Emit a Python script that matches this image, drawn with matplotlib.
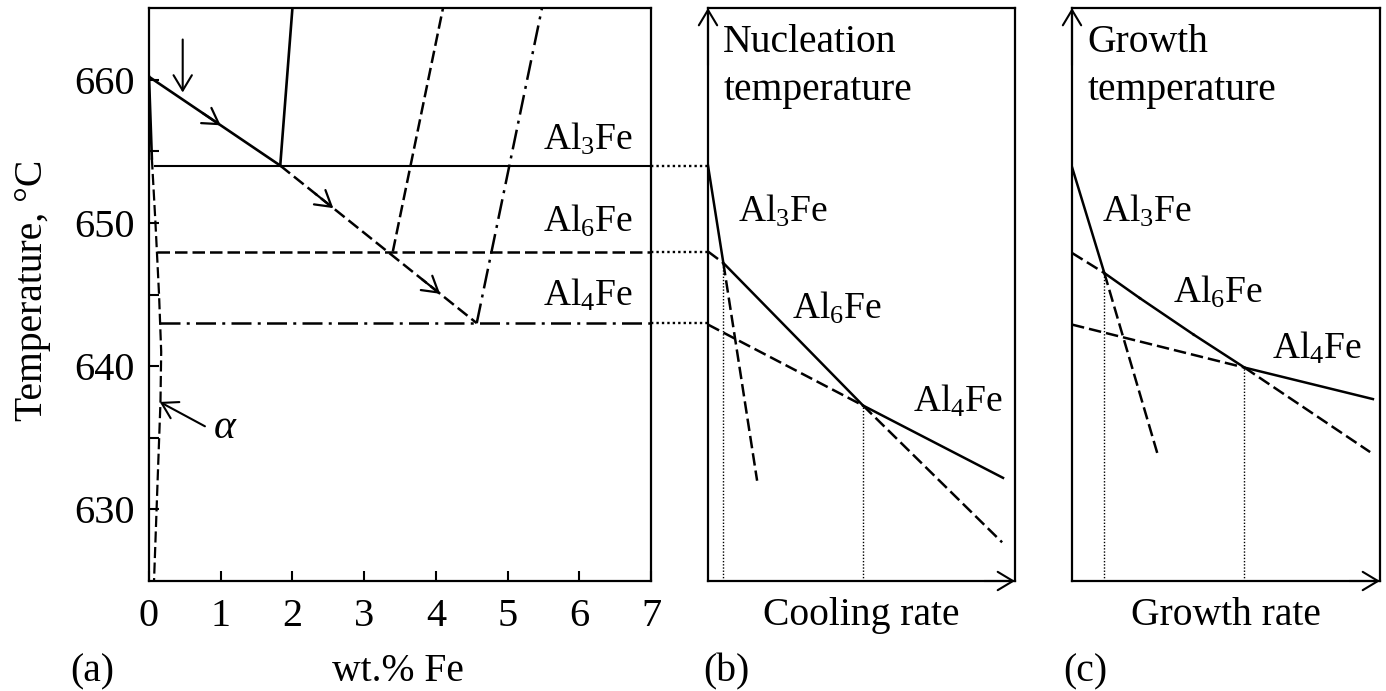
import matplotlib
matplotlib.use('Agg')
import matplotlib.pyplot as plt

plt.rcParams['font.family'] = ['Liberation Serif', 'DejaVu Serif']
plt.rcParams['mathtext.fontset'] = 'custom'
plt.rcParams['mathtext.rm'] = 'Liberation Serif'
plt.rcParams['mathtext.it'] = 'Liberation Serif:italic'

# (a) Al-Fe phase diagram, Al-rich corner
liq_x = [0.0, 1.83]
liq_t = [660.2, 654.0]
liq_ext_x = [1.83, 4.57]          # metastable extension of the liquidus
liq_ext_t = [654.0, 643.0]
al3fe_x = [1.83, 2.0]
al3fe_t = [654.0, 665.0]
al6fe_x = [3.40, 4.10]
al6fe_t = [648.0, 665.0]
al4fe_x = [4.57, 5.48]
al4fe_t = [643.0, 665.0]
eut_t = [654.0, 648.0, 643.0]     # eutectic temperatures Al3Fe, Al6Fe, Al4Fe
eut_x0 = [0.08, 0.11, 0.15]
solidus_x = [0.0, 0.04]
solidus_t = [660.2, 654.5]
solvus_x = [0.04, 0.09, 0.14, 0.17, 0.16, 0.12, 0.07]
solvus_t = [654.5, 650.0, 645.0, 641.0, 637.5, 632.0, 625.0]
phases = ['Al$_3$Fe', 'Al$_6$Fe', 'Al$_4$Fe']
wt_ticks = [0, 1, 2, 3, 4, 5, 6, 7]
t_ticks = [630, 640, 650, 660]
t_minor = [635, 645, 655]

# (b) nucleation temperature vs cooling rate
nuc_al3_x = [0.0, 0.5, 1.6]
nuc_al3_t = [654.0, 647.2, 632.0]
nuc_al6_x = [0.0, 0.5, 5.05, 9.58]
nuc_al6_t = [648.0, 647.2, 637.25, 627.7]
nuc_al4_x = [0.0, 5.05, 9.61]
nuc_al4_t = [642.9, 637.25, 632.2]
nuc_cross_x = [0.5, 5.05]
nuc_cross_t = [647.2, 637.25]

# (c) growth temperature vs growth rate
gro_al3_x = [0.0, 1.05, 2.8]
gro_al3_t = [653.9, 646.5, 633.7]
gro_al6_x = [0.0, 1.05, 2.2, 3.95, 5.6, 9.68]
gro_al6_t = [647.9, 646.5, 644.75, 642.2, 639.9, 634.0]
gro_al4_x = [0.0, 5.6, 9.77]
gro_al4_t = [642.9, 639.9, 637.7]
gro_cross_x = [1.05, 5.6]
gro_cross_t = [646.5, 639.9]

W, H = 1386, 691
def box(l, t, r, b):
    return [l / W, 1 - b / H, (r - l) / W, (b - t) / H]

DASH = (0, (5, 2))
DASHDOT = (0, (8, 2.5, 1.2, 2.5))
DOT = (0, (1, 1.3))
ARROW = '->,head_length=0.5,head_width=0.3'

fig = plt.figure(figsize=(13.86, 6.91), dpi=100)
ax_a = fig.add_axes(box(149, 8, 651, 581))
ax_b = fig.add_axes(box(708, 8, 1015, 581))
ax_c = fig.add_axes(box(1072, 8, 1380, 581))

for ax in (ax_a, ax_b, ax_c):
    ax.set_ylim(625, 665)
    for s in ax.spines.values():
        s.set_linewidth(1.6)

# ---- panel (a)
ax_a.set_xlim(0, 7)
ax_a.set_xticks(wt_ticks)
ax_a.set_yticks(t_ticks)
ax_a.set_yticks(t_minor, minor=True)
ax_a.tick_params(which='both', direction='in', length=7, width=1.5, labelsize=29, pad=10)
ax_a.tick_params(axis='x', pad=12)

ax_a.plot(liq_x, liq_t, 'k-', lw=1.9)
ax_a.plot(liq_ext_x, liq_ext_t, 'k', ls=DASH, lw=1.8)
ax_a.plot(al3fe_x, al3fe_t, 'k-', lw=1.9)
ax_a.plot(al6fe_x, al6fe_t, 'k', ls=DASH, lw=1.8)
ax_a.plot(al4fe_x, al4fe_t, 'k', ls=DASHDOT, lw=1.8)
ax_a.plot(solidus_x, solidus_t, 'k-', lw=1.9)
ax_a.plot(solvus_x, solvus_t, 'k', ls=DASH, lw=1.6)
styles = ['-', DASH, DASHDOT]
for x0, t, st in zip(eut_x0, eut_t, styles):
    ax_a.plot([x0, 7], [t, t], 'k', ls=st, lw=1.5 if st == '-' else 1.8)

# dotted connectors from (a) to (b)
bx = ax_a.transData.inverted().transform(ax_b.transAxes.transform((0, 0)))[0]
for t in eut_t:
    ax_a.plot([7, bx], [t, t], 'k', ls=DOT, lw=1.7, clip_on=False)

# arrows along the cooling path
def along(ax, x, xs, ts):
    slope = (ts[1] - ts[0]) / (xs[1] - xs[0])
    t = ts[0] + slope * (x - xs[0])
    ax.annotate('', xy=(x, t), xytext=(x - 0.25, t - 0.25 * slope),
                arrowprops=dict(arrowstyle=ARROW, lw=1.6, mutation_scale=22,
                                shrinkA=0, shrinkB=0))

along(ax_a, 1.0, liq_x, liq_t)
along(ax_a, 2.57, liq_ext_x, liq_ext_t)
along(ax_a, 4.06, liq_ext_x, liq_ext_t)
ax_a.annotate('', xy=(0.47, 659.1), xytext=(0.47, 662.8),
              arrowprops=dict(arrowstyle=ARROW, lw=1.5, mutation_scale=22, shrinkA=0, shrinkB=0))
ax_a.annotate('', xy=(0.15, 637.5), xytext=(0.78, 635.8),
              arrowprops=dict(arrowstyle=ARROW, lw=1.5, mutation_scale=22, shrinkA=0, shrinkB=0))
ax_a.text(1.06, 635.7, 'α', style='italic', ha='center', va='center', fontsize=30)

for lab, t in zip(phases, [655.1, 649.4, 644.2]):
    ax_a.text(6.75, t, lab, ha='right', va='baseline', fontsize=27)

fig.text(33 / W, 1 - 290 / H, 'Temperature, °C', rotation=90, ha='center', va='center', fontsize=28.5)
fig.text(398 / W, 1 - 681 / H, 'wt.% Fe', ha='center', va='baseline', fontsize=28.5)
fig.text(70 / W, 1 - 681 / H, '(a)', ha='left', va='baseline', fontsize=28.5)

# ---- panels (b) and (c)
def curve(ax, xs, ts, segs):
    for i, st in enumerate(segs):
        ax.plot(xs[i:i + 2], ts[i:i + 2], 'k', ls=st, lw=1.8)

def schematic(ax, title, xlabel, tag, tag_x):
    ax.set_xlim(0, 10)
    ax.set_xticks([])
    ax.set_yticks([])
    for xy, xyt in [((0, 1), (0, 0.9)), ((1, 0), (0.9, 0))]:
        ax.annotate('', xy=xy, xycoords='axes fraction', xytext=xyt, textcoords='axes fraction',
                    arrowprops=dict(arrowstyle=ARROW, lw=1.5, mutation_scale=22, shrinkA=0, shrinkB=0))
    ax.text(0.5, 661.9, title[0], ha='left', va='baseline', fontsize=28.5)
    ax.text(0.5, 658.6, title[1], ha='left', va='baseline', fontsize=28.5)
    ax.text(0.5, -0.077, xlabel, transform=ax.transAxes, ha='center', va='baseline', fontsize=28.5)
    fig.text(tag_x / W, 1 - 681 / H, tag, ha='left', va='baseline', fontsize=28.5)

schematic(ax_b, ['Nucleation', 'temperature'], 'Cooling rate', '(b)', 703)
curve(ax_b, nuc_al3_x, nuc_al3_t, ['-', DASH])
curve(ax_b, nuc_al6_x, nuc_al6_t, [DASH, '-', DASH])
curve(ax_b, nuc_al4_x, nuc_al4_t, [DASH, '-'])
for x, t in zip(nuc_cross_x, nuc_cross_t):
    ax_b.plot([x, x], [625, t], 'k', ls=DOT, lw=1.0)
for lab, x, t in zip(phases, [0.98, 2.74, 6.68], [650.1, 643.3, 636.8]):
    ax_b.text(x, t, lab, ha='left', va='baseline', fontsize=27)

schematic(ax_c, ['Growth', 'temperature'], 'Growth rate', '(c)', 1063)
curve(ax_c, gro_al3_x, gro_al3_t, ['-', DASH])
curve(ax_c, gro_al6_x, gro_al6_t, [DASH, '-', '-', '-', DASH])
curve(ax_c, gro_al4_x, gro_al4_t, [DASH, '-'])
for x, t in zip(gro_cross_x, gro_cross_t):
    ax_c.plot([x, x], [625, t], 'k', ls=DOT, lw=1.0)
for lab, x, t in zip(phases, [0.97, 3.28, 6.49], [650.1, 644.4, 640.5]):
    ax_c.text(x, t, lab, ha='left', va='baseline', fontsize=27)

fig.savefig('out.png', dpi=100)
